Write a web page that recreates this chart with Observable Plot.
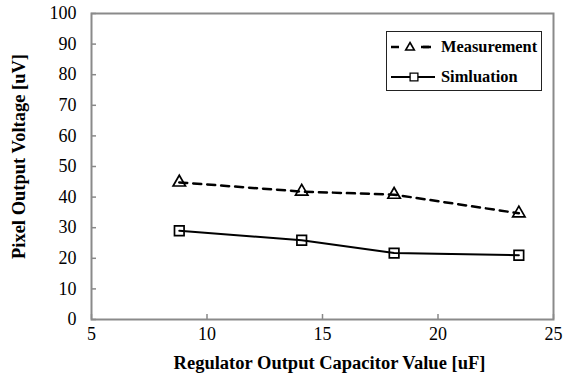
<!DOCTYPE html>
<html>
<head>
<meta charset="utf-8">
<script src="https://cdn.jsdelivr.net/npm/d3@7"></script>
<script src="https://cdn.jsdelivr.net/npm/@observablehq/plot@0.6"></script>
<style>
  body { margin: 0; background: #fff; }
  #wrap { position: relative; width: 563px; height: 383px; }
  #wrap svg, #wrap svg text { font-family: "Liberation Serif", "Times New Roman", serif; }
  #wrap svg text { fill: #000; }
  #legend { position: absolute; left: 386px; top: 31px; width: 154px; height: 58px;
    border: 1.6px solid #222; background: #fff; font-family: "Liberation Serif", "Times New Roman", serif;
    font-weight: bold; font-size: 16.4px; }
  .row { position: absolute; left: 3px; height: 20px; display: flex; align-items: center; }
  .row span { margin-left: 5px; }
</style>
</head>
<body>
<div id="wrap"></div>
<script>
const capacitance = [8.8, 14.1, 18.1, 23.5];
const measurement = [44.8, 41.8, 40.8, 34.7];
const simulation = [29.0, 25.9, 21.7, 21.0];
const xTicks = [5, 10, 15, 20, 25];
const yTicks = [0, 10, 20, 30, 40, 50, 60, 70, 80, 90, 100];
const seriesNames = ["Measurement", "Simluation"];
const xTitle = "Regulator Output Capacitor Value [uF]";
const yTitle = "Pixel Output Voltage [uV]";

const meas = capacitance.map((x, i) => ({x, y: measurement[i]}));
const sim = capacitance.map((x, i) => ({x, y: simulation[i]}));

const chart = Plot.plot({
  width: 563,
  height: 383,
  marginLeft: 91,
  marginTop: 13,
  marginRight: 10,
  marginBottom: 64,
  style: {fontFamily: "'Liberation Serif', serif", fontSize: "18px", background: "#fff", color: "#000"},
  x: {domain: [5, 25]},
  y: {domain: [0, 100]},
  marks: [
    Plot.axisY({ticks: yTicks, tickSize: 0, tickPadding: 15, label: null}),
    Plot.axisY({ticks: yTicks, tickSize: 5, dx: 5, text: null, label: null, stroke: "#888", strokeWidth: 1.5}),
    Plot.axisX({ticks: xTicks, tickSize: 0, tickPadding: 8, label: null}),
    Plot.axisX({ticks: xTicks, tickSize: 5, dy: -5, text: null, label: null, stroke: "#888", strokeWidth: 1.5}),
    Plot.text([xTitle], {text: d => d, frameAnchor: "bottom", textAnchor: "middle", lineAnchor: "middle",
      dy: 44, dx: 7, fontWeight: "bold", fontSize: 18.5, fill: "#000"}),
    Plot.text([yTitle], {text: d => d, frameAnchor: "left", textAnchor: "middle", lineAnchor: "middle",
      rotate: -90, dx: -72, dy: -10, fontWeight: "bold", fontSize: 18.5, fill: "#000"}),
    Plot.frame({stroke: "#8a8a8a", strokeWidth: 2}),
    Plot.line(meas, {x: "x", y: "y", stroke: "#000", strokeWidth: 2.5, strokeDasharray: "8,6"}),
    Plot.line(sim, {x: "x", y: "y", stroke: "#000", strokeWidth: 2}),
    Plot.dot(meas, {x: "x", y: "y", symbol: "triangle", r: 4.6, stroke: "#000", strokeWidth: 1.7, fill: "none"}),
    Plot.dot(sim, {x: "x", y: "y", symbol: "square", r: 5.4, stroke: "#000", strokeWidth: 1.7, fill: "none"})
  ]
});
const wrap = document.getElementById("wrap");
wrap.appendChild(chart);

const legend = document.createElement("div");
legend.id = "legend";
legend.innerHTML = `
  <div class="row" style="top:5px">
    <svg width="46" height="20"><line x1="1" y1="10" x2="45" y2="10" stroke="#000" stroke-width="2.5" stroke-dasharray="8,24"/>
    <line x1="31" y1="10" x2="39" y2="10" stroke="#000" stroke-width="2.5"/>
    <path transform="translate(20,10.5)" d="${d3.symbol(d3.symbolTriangle, 3.2*3.2*Math.PI)()}" fill="#fff" stroke="#000" stroke-width="1.6"/></svg>
    <span>${seriesNames[0]}</span></div>
  <div class="row" style="top:35px">
    <svg width="46" height="20"><line x1="1" y1="10" x2="45" y2="10" stroke="#000" stroke-width="2"/>
    <path transform="translate(24,10)" d="${d3.symbol(d3.symbolSquare, 4.4*4.4*Math.PI)()}" fill="#fff" stroke="#000" stroke-width="1.3"/></svg>
    <span>${seriesNames[1]}</span></div>`;
wrap.appendChild(legend);
</script>
</body>
</html>
